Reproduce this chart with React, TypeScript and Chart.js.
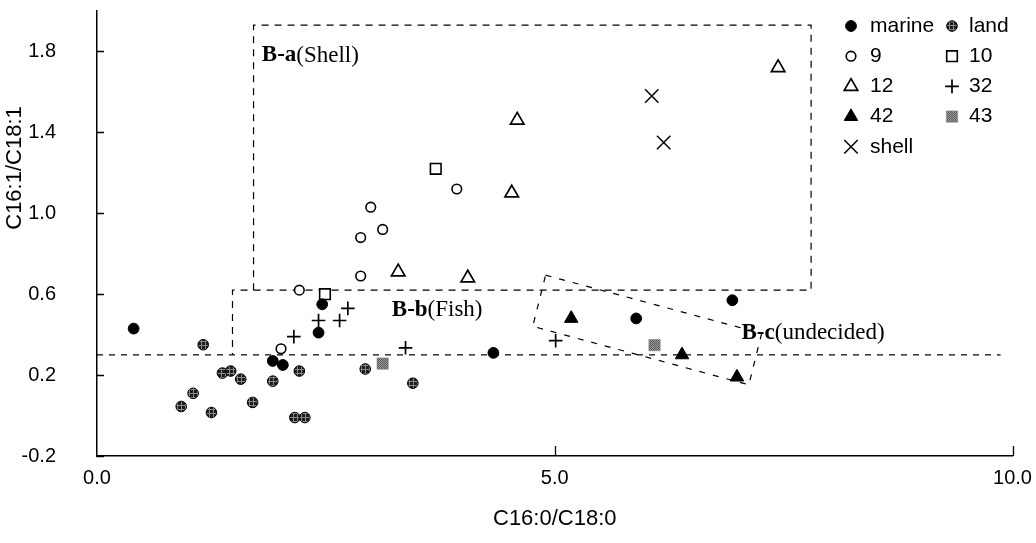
import React, { useEffect, useRef } from 'react';
import { Chart, registerables } from 'chart.js';
import { drawPoint } from 'chart.js/helpers';

Chart.register(...registerables);

// ---- axis ticks ----
const xTicks = [0, 5, 10];
const xTickLabels = ['0.0', '5.0', '10.0'];
const yTicks = [-0.2, 0.2, 0.6, 1.0, 1.4, 1.8];
const yTickLabels = ['-0.2', '0.2', '0.6', '1.0', '1.4', '1.8'];

// ---- series values [C16:0/C18:0, C16:1/C18:1] ----
const marine: [number, number][] = [
  [0.40, 0.43], [2.46, 0.55], [2.42, 0.41], [1.92, 0.27], [2.03, 0.25],
  [4.33, 0.31], [5.89, 0.48], [6.94, 0.57],
];
const land: [number, number][] = [
  [1.16, 0.35], [1.37, 0.21], [1.46, 0.22], [1.57, 0.18], [1.05, 0.11],
  [0.92, 0.045], [1.25, 0.015], [1.70, 0.065], [2.21, 0.22], [1.92, 0.17],
  [2.16, -0.01], [2.27, -0.01], [2.93, 0.23], [3.45, 0.16],
];
const s9: [number, number][] = [
  [2.21, 0.62], [2.01, 0.33], [2.99, 1.03], [3.12, 0.92], [2.88, 0.88],
  [2.88, 0.69], [3.93, 1.12],
];
const s10: [number, number][] = [[2.49, 0.60], [3.70, 1.22]];
const s12: [number, number][] = [
  [4.59, 1.46], [4.53, 1.10], [3.29, 0.71], [4.05, 0.68], [7.44, 1.72],
];
const s32: [number, number][] = [
  [2.74, 0.53], [2.42, 0.47], [2.65, 0.47], [2.15, 0.39], [3.37, 0.335], [5.01, 0.37],
];
const s42: [number, number][] = [[5.18, 0.48], [6.39, 0.30], [6.99, 0.19]];
const s43: [number, number][] = [[3.12, 0.257], [6.09, 0.348]];
const shell: [number, number][] = [[6.06, 1.58], [6.19, 1.35]];

// ---- region outlines (data units) ----
const boxAB: [number, number][] = [
  [1.71, 0.62], [1.71, 1.93], [7.80, 1.93], [7.80, 0.62], [1.48, 0.62], [1.48, 0.30],
];
const baseLine: [number, number][] = [[0, 0.30], [9.87, 0.30]];
const boxC: [number, number][] = [
  [4.90, 0.694], [7.26, 0.406], [7.12, 0.152], [4.76, 0.441], [4.90, 0.694],
];

const regionLabels = [
  { bold: 'B-a', normal: '(Shell)', x: 1.80, y: 1.78 },
  { bold: 'B-b', normal: '(Fish)', x: 3.22, y: 0.52 },
  { bold: 'B-c', normal: '(undecided)', x: 7.04, y: 0.41 },
];

const SANS = "'Liberation Sans', Arial, sans-serif";
const SERIF = "'Liberation Serif', 'Times New Roman', serif";

function makePattern(kind: 'land' | 'grey'): CanvasPattern | string {
  const c = document.createElement('canvas');
  const g = c.getContext('2d');
  if (!g) return '#444';
  if (kind === 'land') {
    c.width = 4; c.height = 4;
    g.fillStyle = '#1c1c1c';
    g.fillRect(0, 0, 4, 4);
    g.fillStyle = '#8a8a8a';
    g.fillRect(0, 1, 4, 1);
    g.fillRect(1, 0, 1, 4);
  } else {
    c.width = 2; c.height = 2;
    g.fillStyle = '#9a9a9a';
    g.fillRect(0, 0, 2, 2);
    g.fillStyle = '#5a5a5a';
    g.fillRect(0, 0, 1, 1);
    g.fillRect(1, 1, 1, 1);
  }
  return g.createPattern(c, 'repeat') || '#444';
}

const toXY = (arr: [number, number][]) => arr.map(([x, y]) => ({ x, y }));

export default function App() {
  const ref = useRef<HTMLCanvasElement | null>(null);

  useEffect(() => {
    if (!ref.current) return;
    const landPat = makePattern('land');
    const greyPat = makePattern('grey');

    const styles: Record<string, any> = {
      marine: { pointStyle: 'circle', radius: 5.4, fill: '#000', stroke: '#000', bw: 1 },
      land: { pointStyle: 'circle', radius: 5.3, fill: landPat, stroke: '#000', bw: 1 },
      '9': { pointStyle: 'circle', radius: 4.8, fill: '#fff', stroke: '#000', bw: 1.6 },
      '10': { pointStyle: 'rect', radius: 7.5, fill: '#fff', stroke: '#000', bw: 1.6 },
      '12': { pointStyle: 'triangle', radius: 7.8, fill: '#fff', stroke: '#000', bw: 1.7 },
      '32': { pointStyle: 'cross', radius: 6.8, fill: '#000', stroke: '#000', bw: 1.7 },
      '42': { pointStyle: 'triangle', radius: 7.8, fill: '#000', stroke: '#000', bw: 1 },
      '43': { pointStyle: 'rect', radius: 8, fill: greyPat, stroke: '#777', bw: 0.5 },
      shell: { pointStyle: 'crossRot', radius: 9.5, fill: '#000', stroke: '#000', bw: 1.5 },
    };
    const series: [string, [number, number][]][] = [
      ['marine', marine], ['land', land], ['9', s9], ['10', s10], ['12', s12],
      ['32', s32], ['42', s42], ['43', s43], ['shell', shell],
    ];
    const legendOrder = [
      ['marine', 'land'], ['9', '10'], ['12', '32'], ['42', '43'], ['shell'],
    ];

    const lineDs = (data: [number, number][], dash: number[]) => ({
      type: 'scatter' as const,
      data: toXY(data),
      showLine: true,
      borderColor: '#000',
      borderWidth: 1.2,
      borderDash: dash,
      pointRadius: 0,
      fill: false,
      tension: 0,
      order: 10,
    });

    const pointDs = series.map(([k, d]) => {
      const s = styles[k];
      return {
        type: 'scatter' as const,
        label: k,
        data: toXY(d),
        pointStyle: s.pointStyle,
        pointRadius: s.radius,
        pointHoverRadius: s.radius,
        pointBackgroundColor: s.fill,
        pointBorderColor: s.stroke,
        pointBorderWidth: s.bw,
        showLine: false,
        order: 1,
      };
    });

    const decor = {
      id: 'decor',
      afterDraw(chart: any) {
        const { ctx, chartArea: a, scales } = chart;
        const xs = scales.x, ys = scales.y;
        ctx.save();
        // inner tick marks
        ctx.strokeStyle = '#000';
        ctx.lineWidth = 1.3;
        ctx.beginPath();
        yTicks.forEach((v) => {
          const py = Math.round(ys.getPixelForValue(v)) + 0.5;
          ctx.moveTo(a.left, py);
          ctx.lineTo(a.left + 7, py);
        });
        xTicks.slice(1).forEach((v) => {
          const px = Math.round(xs.getPixelForValue(v)) + 0.5;
          ctx.moveTo(px, a.bottom);
          ctx.lineTo(px, a.bottom - 10);
        });
        ctx.stroke();

        // region labels
        ctx.fillStyle = '#000';
        ctx.textBaseline = 'middle';
        ctx.textAlign = 'left';
        regionLabels.forEach((r) => {
          const px = xs.getPixelForValue(r.x);
          const py = ys.getPixelForValue(r.y);
          ctx.font = `bold 23px ${SERIF}`;
          ctx.fillText(r.bold, px, py);
          const w = ctx.measureText(r.bold).width;
          ctx.font = `23px ${SERIF}`;
          ctx.fillText(r.normal, px + w, py);
        });

        // axis titles
        ctx.font = `22px ${SANS}`;
        ctx.textAlign = 'center';
        ctx.fillText('C16:0/C18:0', (a.left + a.right) / 2, 519);
        ctx.save();
        ctx.translate(15, 168);
        ctx.rotate(-Math.PI / 2);
        ctx.fillText('C16:1/C18:1', 0, 0);
        ctx.restore();

        // legend
        ctx.font = `21px ${SANS}`;
        ctx.textAlign = 'left';
        const colMarker = [851, 952];
        const colText = [870, 969];
        legendOrder.forEach((row, ri) => {
          const py = 26 + ri * 30.2;
          row.forEach((k, ci) => {
            const s = styles[k];
            ctx.fillStyle = s.fill;
            ctx.strokeStyle = s.stroke;
            ctx.lineWidth = s.bw;
            drawPoint(ctx, { pointStyle: s.pointStyle, radius: s.radius, borderWidth: s.bw, rotation: 0 } as any, colMarker[ci], py);
            ctx.fillStyle = '#000';
            ctx.fillText(k, colText[ci], py);
          });
        });
        ctx.restore();
      },
    };

    const chart = new Chart(ref.current, {
      type: 'scatter',
      data: {
        datasets: [
          lineDs(boxAB, [7, 6]),
          lineDs(baseLine, [6, 6]),
          lineDs(boxC, [6, 8]),
          ...pointDs,
        ] as any,
      },
      options: {
        animation: false,
        responsive: false,
        maintainAspectRatio: false,
        layout: { padding: { top: 7, right: 23.5, left: 0, bottom: 0 } },
        plugins: { legend: { display: false }, tooltip: { enabled: false } },
        scales: {
          x: {
            type: 'linear',
            min: 0,
            max: 10,
            position: 'bottom',
            afterBuildTicks: (s: any) => { s.ticks = xTicks.map((v) => ({ value: v })); },
            afterFit: (s: any) => { s.height = 87; s.paddingLeft = 0; s.paddingRight = 0; },
            grid: { display: false, drawTicks: false },
            border: { display: true, color: '#000', width: 1.5 },
            ticks: {
              padding: 10,
              color: '#000',
              autoSkip: false,
              maxRotation: 0,
              font: { family: SANS, size: 20 },
              callback: (_v: any, i: number) => xTickLabels[i],
            },
          },
          y: {
            type: 'linear',
            min: -0.2,
            max: 2.0,
            position: 'left',
            afterBuildTicks: (s: any) => { s.ticks = yTicks.map((v) => ({ value: v })); },
            afterFit: (s: any) => { s.width = 97; s.paddingTop = 0; s.paddingBottom = 0; },
            grid: { display: false, drawTicks: false },
            border: { display: true, color: '#000', width: 1.5 },
            ticks: {
              padding: 41,
              color: '#000',
              autoSkip: false,
              font: { family: SANS, size: 20 },
              callback: (_v: any, i: number) => yTickLabels[i],
            },
          },
        },
      } as any,
      plugins: [decor],
    });
    return () => chart.destroy();
  }, []);

  return (
    <div style={{ position: 'absolute', left: 0, top: 0, width: 1036, height: 543, background: '#fff' }}>
      <canvas ref={ref} width={1036} height={543} style={{ width: 1036, height: 543, display: 'block' }} />
    </div>
  );
}
